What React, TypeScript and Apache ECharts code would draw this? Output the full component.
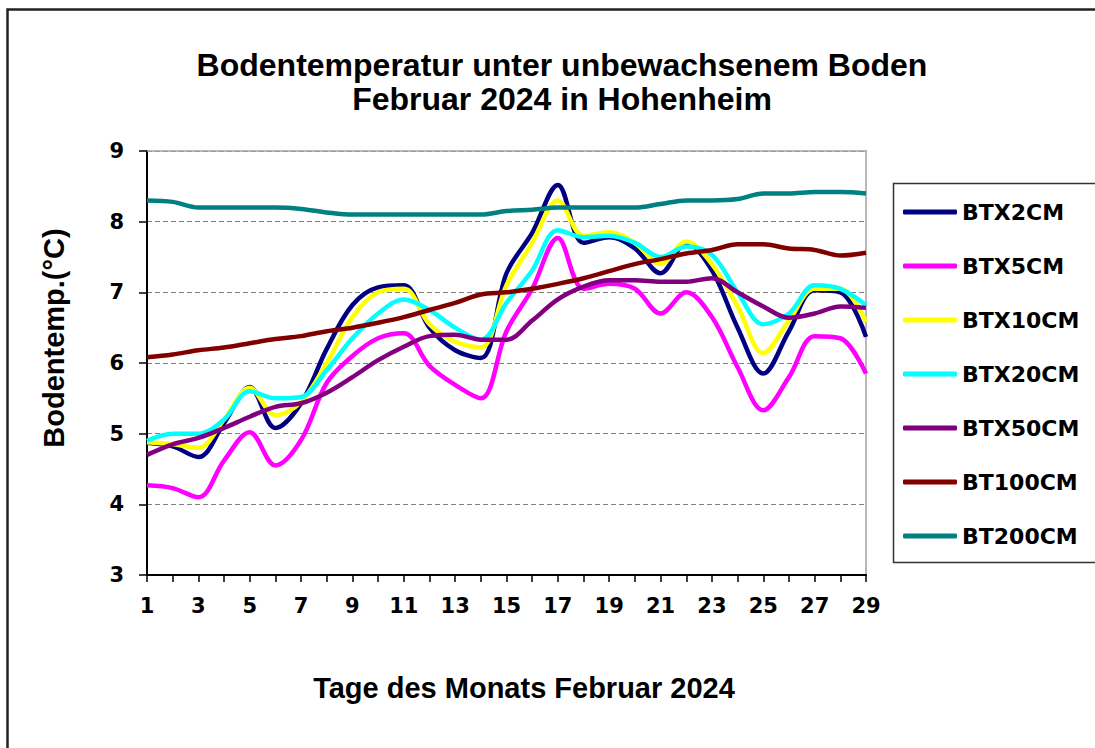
import React, { useEffect, useRef } from "react";
import * as echarts from "echarts";

const days = ["1","2","3","4","5","6","7","8","9","10","11","12","13","14","15","16","17","18","19","20","21","22","23","24","25","26","27","28","29"];

const btx2cm = [4.87, 4.82, 4.67, 5.15, 5.66, 5.08, 5.43, 6.2, 6.82, 7.07, 7.1, 6.5, 6.18, 6.07, 7.27, 7.84, 8.52, 7.7, 7.78, 7.62, 7.27, 7.7, 7.31, 6.5, 5.85, 6.45, 7.03, 7.0, 6.37];
const btx5cm = [4.27, 4.23, 4.1, 4.62, 5.02, 4.55, 4.91, 5.72, 6.1, 6.35, 6.42, 5.96, 5.69, 5.5, 6.45, 7.05, 7.77, 7.05, 7.12, 7.05, 6.7, 7.0, 6.65, 5.94, 5.33, 5.8, 6.38, 6.35, 5.85];
const btx10cm = [4.88, 4.85, 4.8, 5.2, 5.65, 5.26, 5.45, 6.0, 6.65, 7.0, 7.05, 6.55, 6.3, 6.22, 7.1, 7.7, 8.3, 7.8, 7.85, 7.7, 7.4, 7.72, 7.4, 6.8, 6.14, 6.6, 7.05, 7.05, 6.58];
const btx20cm = [4.9, 5.0, 5.0, 5.2, 5.6, 5.5, 5.52, 5.9, 6.35, 6.7, 6.9, 6.75, 6.5, 6.33, 6.85, 7.31, 7.88, 7.78, 7.8, 7.7, 7.5, 7.65, 7.53, 7.0, 6.55, 6.7, 7.1, 7.05, 6.82];
const btx50cm = [4.7, 4.85, 4.94, 5.08, 5.24, 5.38, 5.43, 5.58, 5.8, 6.04, 6.23, 6.38, 6.4, 6.33, 6.33, 6.6, 6.9, 7.08, 7.17, 7.17, 7.15, 7.15, 7.2, 7.0, 6.8, 6.64, 6.7, 6.8, 6.78];
const bt100cm = [6.08, 6.12, 6.18, 6.22, 6.28, 6.34, 6.38, 6.45, 6.5, 6.57, 6.65, 6.75, 6.85, 6.97, 7.0, 7.05, 7.12, 7.2, 7.3, 7.4, 7.47, 7.55, 7.6, 7.68, 7.68, 7.62, 7.6, 7.52, 7.56];
const bt200cm = [8.3, 8.28, 8.2, 8.2, 8.2, 8.2, 8.18, 8.13, 8.1, 8.1, 8.1, 8.1, 8.1, 8.1, 8.15, 8.17, 8.2, 8.2, 8.2, 8.2, 8.25, 8.3, 8.3, 8.32, 8.4, 8.4, 8.42, 8.42, 8.4];

const seriesNames = ["BTX2CM", "BTX5CM", "BTX10CM", "BTX20CM", "BTX50CM", "BT100CM", "BT200CM"];
const seriesData = [btx2cm, btx5cm, btx10cm, btx20cm, btx50cm, bt100cm, bt200cm];
const seriesColors = ["#000080", "#FF00FF", "#FFFF00", "#00FFFF", "#800080", "#800000", "#008080"];

const titleText = "Bodentemperatur unter unbewachsenem Boden\nFebruar 2024 in Hohenheim";
const xName = "Tage des Monats Februar 2024";
const yName = "Bodentemp.(°C)";

const tickFont = { fontFamily: "DejaVu Sans", fontWeight: "bold" as const, fontSize: 21, color: "#000" };

export default function App() {
  const ref = useRef<HTMLDivElement>(null);
  useEffect(() => {
    if (!ref.current) return;
    const chart = echarts.init(ref.current, undefined, { renderer: "svg" });
    chart.setOption({
      animation: false,
      backgroundColor: "#fff",
      title: {
        text: titleText,
        left: 562,
        top: 48,
        padding: 0,
        textAlign: "center",
        textStyle: { fontFamily: "Liberation Sans", fontWeight: "bold", fontSize: 32, lineHeight: 34, color: "#000" },
      },
      grid: { left: 147, top: 151, width: 719, height: 424, containLabel: false, outerBoundsMode: "none" },
      legend: {
        data: seriesNames,
        orient: "vertical",
        left: 903,
        top: 201,
        padding: 0,
        itemWidth: 54,
        itemHeight: 5,
        itemGap: 32,
        icon: "roundRect",
        textStyle: { fontFamily: "DejaVu Sans", fontWeight: "bold", fontSize: 22, lineHeight: 22, color: "#000" },
      },
      xAxis: [
        {
          type: "category",
          data: days,
          boundaryGap: false,
          axisLine: { show: true, lineStyle: { color: "#000", width: 2 } },
          axisTick: { show: true, interval: 0, length: 7, lineStyle: { color: "#000", width: 1.5 } },
          axisLabel: { ...tickFont, interval: 1, margin: 20 },
          splitLine: { show: false },
        },
        {
          type: "category",
          data: days,
          position: "top",
          boundaryGap: false,
          axisLine: { show: true, lineStyle: { color: "#a0a0a0", width: 1.5 } },
          axisTick: { show: false },
          axisLabel: { show: false },
          splitLine: { show: false },
        },
      ],
      yAxis: [
        {
          type: "value",
          min: 3,
          max: 9,
          interval: 1,
          axisLine: { show: true, lineStyle: { color: "#000", width: 2 } },
          axisTick: { show: true, length: 8, lineStyle: { color: "#000", width: 1.5 } },
          axisLabel: { ...tickFont, margin: 23 },
          splitLine: { show: true, lineStyle: { color: "#808080", width: 1, type: [5, 3] } },
        },
        {
          type: "value",
          min: 3,
          max: 9,
          interval: 1,
          position: "right",
          axisLine: { show: true, lineStyle: { color: "#a0a0a0", width: 1.5 } },
          axisTick: { show: false },
          axisLabel: { show: false },
          splitLine: { show: false },
        },
      ],
      series: seriesNames.map((name, i) => ({
        name,
        type: "line",
        data: seriesData[i],
        smooth: 0.35,
        showSymbol: false,
        symbol: "none",
        color: seriesColors[i],
        itemStyle: { color: seriesColors[i] },
        lineStyle: { color: seriesColors[i], width: 4.5 },
        emphasis: { disabled: true },
      })),
      graphic: [
        {
          type: "rect",
          shape: { x: 7.5, y: 9.5, width: 1200, height: 1000 },
          style: { fill: "none", stroke: "#222", lineWidth: 2.5 },
          silent: true,
        },
        {
          type: "rect",
          shape: { x: 893.5, y: 183.5, width: 300, height: 379 },
          style: { fill: "none", stroke: "#333", lineWidth: 1.5 },
          silent: true,
        },
        {
          type: "text",
          x: 524,
          y: 688,
          style: { text: xName, fontFamily: "Liberation Sans", fontWeight: "bold", fontSize: 29, fill: "#000", align: "center", verticalAlign: "middle" },
        },
        {
          type: "text",
          x: 54,
          y: 338,
          rotation: Math.PI / 2,
          style: { text: yName, fontFamily: "Liberation Sans", fontWeight: "bold", fontSize: 29, fill: "#000", align: "center", verticalAlign: "middle" },
        },
      ],
    });
    return () => chart.dispose();
  }, []);
  return <div ref={ref} style={{ position: "absolute", left: 0, top: 0, width: 1095, height: 748, background: "#fff" }} />;
}
